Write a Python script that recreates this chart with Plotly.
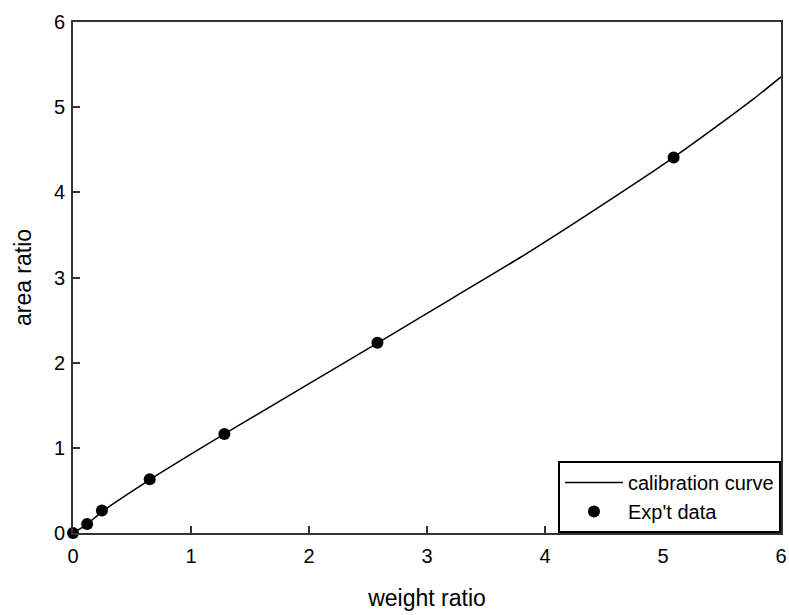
import plotly.graph_objects as go

exp_x = [0.0, 0.12, 0.245, 0.65, 1.283, 2.58, 5.09]
exp_y = [0.0, 0.105, 0.265, 0.63, 1.162, 2.234, 4.41]

# Calibration curve samples
curve_x = [0.0, 0.12, 0.25, 0.65, 1.28, 2.58, 2.94, 3.79, 4.35, 4.92, 5.09, 5.48, 5.77, 6.0]
curve_y = [0.0, 0.105, 0.255, 0.625, 1.16, 2.23, 2.53, 3.235, 3.73, 4.25, 4.41, 4.80, 5.10, 5.355]

x_ticks = [0, 1, 2, 3, 4, 5, 6]
y_ticks = [0, 1, 2, 3, 4, 5, 6]

font_family = "Liberation Sans, Arial, sans-serif"

fig = go.Figure()
fig.add_trace(go.Scatter(
    x=curve_x, y=curve_y, mode="lines", name="calibration curve",
    line=dict(color="black", width=1.5, shape="spline", smoothing=0.8),
))
fig.add_trace(go.Scatter(
    x=exp_x, y=exp_y, mode="markers", name="Exp't data",
    marker=dict(color="black", size=12), cliponaxis=False,
))

axis_common = dict(
    showgrid=False, zeroline=False, showline=True, linecolor="#333333", linewidth=2,
    mirror=True, ticks="inside", ticklen=7, tickwidth=1.5, tickcolor="#333333",
    tickfont=dict(size=20, color="black", family=font_family), automargin=False,
)

fig.update_layout(
    width=789, height=615,
    margin=dict(l=73, r=8, t=22, b=82),
    plot_bgcolor="white", paper_bgcolor="white",
    font=dict(family=font_family, color="black"),
    xaxis=dict(range=[0, 6], tickvals=x_ticks, ticktext=[str(v) for v in x_ticks],
               title=dict(text="weight ratio", font=dict(size=23), standoff=24),
               ticklabelstandoff=4, **axis_common),
    yaxis=dict(range=[0, 6], tickvals=y_ticks, ticktext=[str(v) for v in y_ticks],
               title=dict(text="area ratio", font=dict(size=23), standoff=16),
               ticklabelstandoff=2, **axis_common),
    legend=dict(x=1, xanchor="right", y=0, yanchor="bottom",
                bgcolor="white", bordercolor="black", borderwidth=2,
                font=dict(size=20, color="black"),
                tracegroupgap=0, itemwidth=58),
    showlegend=True,
)

fig.write_html("out.html")
